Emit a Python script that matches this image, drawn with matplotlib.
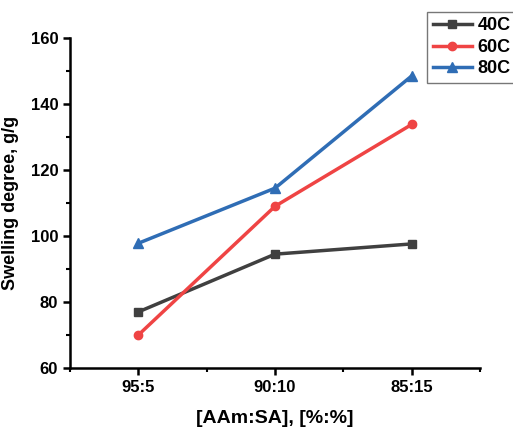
import matplotlib
matplotlib.use("Agg")
import matplotlib.pyplot as plt
from matplotlib.ticker import MultipleLocator

plt.rcParams['font.family'] = ['Liberation Sans', 'DejaVu Sans']
plt.rcParams['font.weight'] = 'bold'

categories = ["95:5", "90:10", "85:15"]
s40 = [77.0, 94.5, 97.6]
s60 = [70.0, 109.0, 133.8]
s80 = [97.8, 114.5, 148.5]

fig = plt.figure(figsize=(5.13, 4.28), dpi=100)
ax = fig.add_axes([0.1365, 0.1402, 0.7992, 0.771])
x = [1, 2, 3]
ax.plot(x, s40, color='#404040', marker='s', markersize=6, linewidth=2.5, label='40C')
ax.plot(x, s60, color='#ef4444', marker='o', markersize=6, linewidth=2.5, label='60C')
ax.plot(x, s80, color='#2f6db5', marker='^', markersize=7, linewidth=2.5, label='80C')

ax.set_xlim(0.5, 3.5)
ax.set_ylim(60, 160)
ax.set_xticks(x)
ax.set_xticklabels(categories)
ax.xaxis.set_minor_locator(MultipleLocator(0.5))
ax.yaxis.set_major_locator(MultipleLocator(20))
ax.yaxis.set_minor_locator(MultipleLocator(10))
for s in ['top', 'right']:
    ax.spines[s].set_visible(False)
for s in ['left', 'bottom']:
    ax.spines[s].set_linewidth(1.8)
ax.tick_params(which='major', direction='out', length=5, width=1.8, labelsize=12)
ax.tick_params(which='minor', direction='out', length=3, width=1.5)
ax.set_xlabel('[AAm:SA], [%:%]', fontsize=14, fontweight='bold', labelpad=11)
ax.set_ylabel('Swelling degree, g/g', fontsize=13, fontweight='bold', labelpad=8)

leg = ax.legend(loc='upper left', bbox_to_anchor=(0.871, 1.079), fontsize=13,
                frameon=True, fancybox=False, edgecolor='#555555',
                handlelength=2.2, borderpad=0.3, labelspacing=0.25,
                handletextpad=0.3, borderaxespad=0)
leg.get_frame().set_linewidth(1.0)

fig.savefig('out.png', dpi=100)
